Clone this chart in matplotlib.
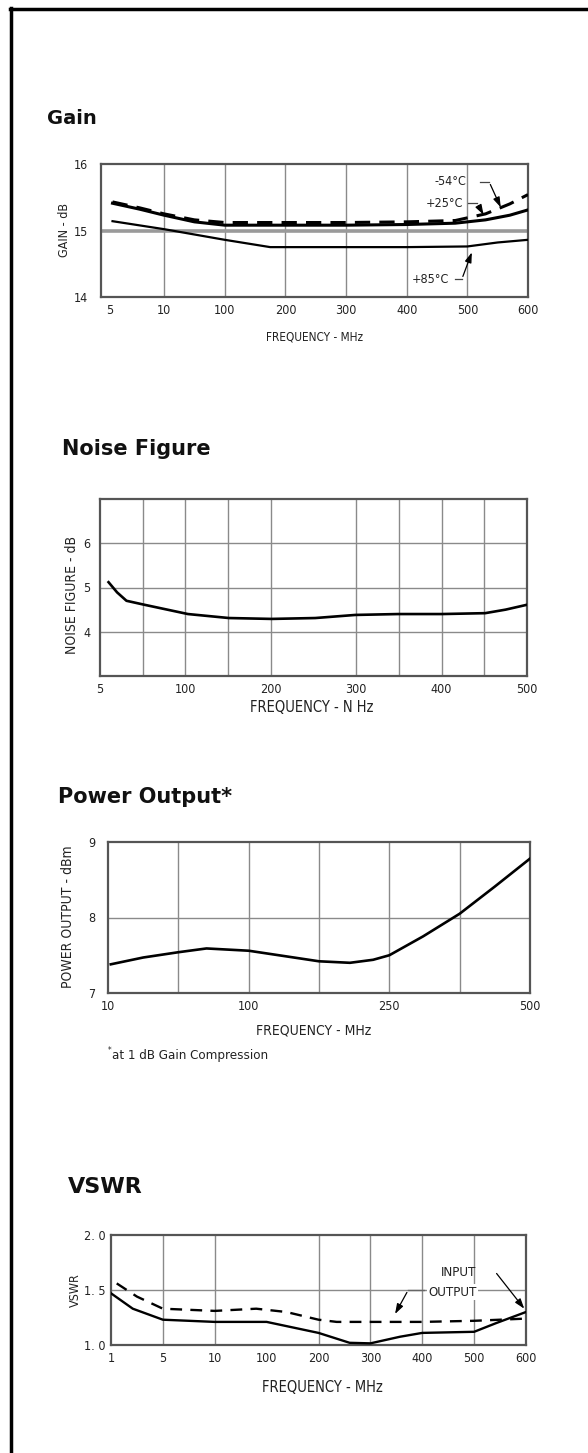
import matplotlib
matplotlib.use("Agg")
import matplotlib.pyplot as plt
from matplotlib.lines import Line2D
from matplotlib.font_manager import FontProperties

W, H = 588, 1453

# ---------------- data ----------------
# Gain (categorical frequency axis, positions 0..7)
gain_tick_pos = [0.1, 1, 2, 3, 4, 5, 6, 7]
gain_tick_lab = ['5', '10', '100', '200', '300', '400', '500', '600']
gain_grid_x = [1, 2, 3, 4, 5, 6]
gain_m54_x = [0.15, 0.6, 1.0, 1.5, 2.0, 3.0, 4.0, 5.0, 5.8, 6.3, 6.7, 7.0]
gain_m54_y = [15.43, 15.34, 15.25, 15.16, 15.12, 15.12, 15.12, 15.13, 15.15, 15.25, 15.40, 15.54]
gain_p25_x = [0.15, 0.6, 1.0, 1.5, 2.0, 3.0, 4.0, 5.0, 5.8, 6.3, 6.7, 7.0]
gain_p25_y = [15.41, 15.32, 15.23, 15.13, 15.08, 15.08, 15.08, 15.09, 15.11, 15.16, 15.23, 15.31]
gain_p85_x = [0.15, 1.0, 2.0, 2.75, 3.0, 4.0, 5.0, 6.0, 6.5, 7.0]
gain_p85_y = [15.14, 15.02, 14.86, 14.75, 14.75, 14.75, 14.75, 14.76, 14.82, 14.86]

# Noise figure (linear MHz axis)
nf_tick_pos = [0, 100, 200, 300, 400, 500]
nf_tick_lab = ['5', '100', '200', '300', '400', '500']
nf_grid_x = [50, 100, 150, 200, 300, 350, 400, 450]
nf_x = [10, 20, 31, 52, 103, 151, 201, 252, 299, 349, 400, 451, 475, 500]
nf_y = [5.12, 4.89, 4.70, 4.61, 4.40, 4.31, 4.29, 4.31, 4.38, 4.40, 4.40, 4.42, 4.50, 4.61]

# Power output (categorical frequency axis, positions 0..6)
po_tick_pos = [0, 2, 4, 6]
po_tick_lab = ['10', '100', '250', '500']
po_grid_x = [1, 2, 3, 4, 5]
po_x = [0.04, 0.5, 1.0, 1.4, 2.0, 2.5, 3.0, 3.44, 3.77, 4.0, 4.48, 5.0, 5.5, 6.0]
po_y = [7.38, 7.47, 7.54, 7.59, 7.56, 7.49, 7.42, 7.40, 7.44, 7.50, 7.75, 8.05, 8.41, 8.78]

# VSWR (categorical frequency axis, positions 0..8)
vs_tick_pos = [0, 1, 2, 3, 4, 5, 6, 7, 8]
vs_tick_lab = ['1', '5', '10', '100', '200', '300', '400', '500', '600']
vs_grid_x = [1, 2, 4, 5, 6, 7]
vs_in_x = [0, 0.42, 1.0, 2.0, 3.0, 4.0, 4.6, 5.0, 5.57, 6.0, 7.0, 7.43, 8.0]
vs_in_y = [1.47, 1.33, 1.23, 1.21, 1.21, 1.11, 1.02, 1.015, 1.075, 1.11, 1.12, 1.20, 1.30]
vs_out_x = [0.11, 0.5, 1.0, 2.0, 2.8, 3.38, 4.0, 4.35, 5.0, 6.0, 7.0, 8.0]
vs_out_y = [1.56, 1.44, 1.33, 1.31, 1.33, 1.30, 1.23, 1.21, 1.21, 1.21, 1.22, 1.24]

# ---------------- helpers ----------------
fig = plt.figure(figsize=(W / 100, H / 100), dpi=100)
fig.patch.set_facecolor('white')


def nfont(size):
    return FontProperties(family='DejaVu Sans', stretch='condensed', size=size)


def bfont(size):
    return FontProperties(family='DejaVu Sans', weight='bold', size=size)


def rect(l, t, r, b):
    return [l / W, 1 - b / H, (r - l) / W, (b - t) / H]


def fx(x):
    return x / W


def fy(y):
    return 1 - y / H


GRID = '#8a8a8a'
SPINE = '#555555'
TXT = '#222222'


def style(ax, xlim, ylim, xt, xl, yt, yl, gx, gy, fs=9.5, ypad=8):
    ax.set_xlim(*xlim)
    ax.set_ylim(*ylim)
    ax.set_xticks(xt)
    ax.set_xticklabels(xl, fontproperties=nfont(fs), color=TXT)
    ax.set_yticks(yt)
    ax.set_yticklabels(yl, fontproperties=nfont(fs), color=TXT)
    ax.tick_params(length=0, pad=ypad)
    ax.tick_params(axis='x', pad=5)
    for s in ax.spines.values():
        s.set_color(SPINE)
        s.set_linewidth(1.6)
    for x in gx:
        ax.axvline(x, color=GRID, lw=1.0, zorder=1)
    for y in gy:
        ax.axhline(y, color=GRID, lw=1.0, zorder=1)


# page frame (left and top)
fig.add_artist(Line2D([fx(11), fx(11)], [fy(8), 0], color='black', lw=2.5))
fig.add_artist(Line2D([fx(10), 1], [fy(8.5), fy(8.5)], color='black', lw=2.5))

# ---------------- Gain ----------------
fig.text(fx(47), fy(118), 'Gain', fontproperties=bfont(14),
         ha='left', va='center', color='#111111')
ax1 = fig.add_axes(rect(101, 164, 528, 297))
style(ax1, (-0.04, 7), (14, 16), gain_tick_pos, gain_tick_lab, [14, 15, 16],
      ['14', '15', '16'], gain_grid_x, [], fs=9, ypad=9)
ax1.axhline(15, color='#9a9a9a', lw=2.6, zorder=1)
ax1.plot(gain_p85_x, gain_p85_y, color='black', lw=1.6, zorder=3)
ax1.plot(gain_p25_x, gain_p25_y, color='black', lw=2.2, zorder=3)
ax1.plot(gain_m54_x, gain_m54_y, color='black', lw=2.2, dashes=(5, 3), zorder=4)
fig.text(fx(64), fy(230), 'GAIN - dB', rotation=90, fontproperties=nfont(9),
         ha='center', va='center', color=TXT)
fig.text(fx(315), fy(337), 'FREQUENCY - MHz', fontproperties=nfont(8.5),
         ha='center', va='center', color=TXT)

arrow_kw = dict(arrowstyle='-|>,head_length=0.6,head_width=0.2', color='black', lw=0.9)
ax1.text(5.72, 15.73, '-54°C', fontproperties=nfont(9), color=TXT, ha='center', va='center')
ax1.plot([6.21, 6.36], [15.73, 15.73], color='#444444', lw=0.9)
ax1.annotate('', xy=(6.57, 15.31), xytext=(6.36, 15.73), arrowprops=arrow_kw)
ax1.text(5.63, 15.41, '+25°C', fontproperties=nfont(9), color=TXT, ha='center', va='center')
ax1.plot([6.01, 6.16], [15.41, 15.41], color='#444444', lw=0.9)
ax1.annotate('', xy=(6.29, 15.20), xytext=(6.16, 15.41), arrowprops=arrow_kw)
ax1.text(5.39, 14.27, '+85°C', fontproperties=nfont(9), color=TXT, ha='center', va='center')
ax1.plot([5.80, 5.91], [14.27, 14.27], color='#444444', lw=0.9)
ax1.annotate('', xy=(6.09, 14.71), xytext=(5.91, 14.27), arrowprops=arrow_kw)

# ---------------- Noise Figure ----------------
fig.text(fx(62), fy(449), 'Noise Figure', fontproperties=bfont(15),
         ha='left', va='center', color='#111111')
ax2 = fig.add_axes(rect(100, 499, 527, 676))
style(ax2, (0, 500), (3, 7), nf_tick_pos, nf_tick_lab, [4, 5, 6], ['4', '5', '6'],
      nf_grid_x, [4, 5, 6], fs=9, ypad=7)
ax2.plot(nf_x, nf_y, color='black', lw=1.9, zorder=3)
fig.text(fx(72), fy(595), 'NOISE FIGURE - dB', rotation=90, fontproperties=nfont(10),
         ha='center', va='center', color=TXT)
fig.text(fx(312), fy(708), 'FREQUENCY - N Hz', fontproperties=nfont(10.5),
         ha='center', va='center', color=TXT)

# ---------------- Power Output ----------------
fig.text(fx(58), fy(797), 'Power Output*', fontproperties=bfont(15),
         ha='left', va='center', color='#111111')
ax3 = fig.add_axes(rect(108, 842, 530, 993))
style(ax3, (0, 6), (7, 9), po_tick_pos, po_tick_lab, [7, 8, 9], ['7', '8', '9'],
      po_grid_x, [8], fs=9, ypad=9)
ax3.plot(po_x, po_y, color='black', lw=1.9, zorder=3)
fig.text(fx(68), fy(917), 'POWER OUTPUT - dBm', rotation=90, fontproperties=nfont(10),
         ha='center', va='center', color=TXT)
fig.text(fx(314), fy(1030), 'FREQUENCY - MHz', fontproperties=nfont(10),
         ha='center', va='center', color=TXT)
fig.text(fx(108), fy(1055), '*', fontproperties=nfont(6), ha='left', va='bottom', color=TXT)
fig.text(fx(112), fy(1055), 'at 1 dB Gain Compression', fontproperties=nfont(9.5),
         ha='left', va='center', color=TXT)

# ---------------- VSWR ----------------
fig.text(fx(68), fy(1187), 'VSWR', fontproperties=bfont(16),
         ha='left', va='center', color='#111111')
ax4 = fig.add_axes(rect(111, 1235, 526, 1345))
style(ax4, (0, 8), (1.0, 2.0), vs_tick_pos, vs_tick_lab, [1.0, 1.5, 2.0],
      ['1. 0', '1. 5', '2. 0'], vs_grid_x, [1.5], fs=9, ypad=4)
ax4.plot(vs_in_x, vs_in_y, color='black', lw=1.7, zorder=3)
ax4.plot(vs_out_x, vs_out_y, color='black', lw=1.7, dashes=(5, 3.5), zorder=3)
fig.text(fx(75), fy(1290), 'VSWR', rotation=90, fontproperties=nfont(9),
         ha='center', va='center', color=TXT)
fig.text(fx(322), fy(1387), 'FREQUENCY - MHz', fontproperties=nfont(10.5),
         ha='center', va='center', color=TXT)
ax4.text(7.05, 1.66, 'INPUT', fontproperties=nfont(9.5), color=TXT,
         ha='right', va='center', zorder=5)
ax4.text(6.59, 1.48, 'OUTPUT', fontproperties=nfont(9.5), color=TXT,
         ha='center', va='center', zorder=5,
         bbox=dict(facecolor='white', edgecolor='none', pad=1.0))
ax4.plot([6.03, 5.73], [1.5, 1.5], color='#666666', lw=1.0, zorder=5)
ax4.annotate('', xy=(5.45, 1.26), xytext=(5.73, 1.5), arrowprops=arrow_kw, zorder=5)
ax4.annotate('', xy=(8.0, 1.31), xytext=(7.4, 1.67), arrowprops=arrow_kw, zorder=5)

fig.savefig('out.png', dpi=100, facecolor='white')
